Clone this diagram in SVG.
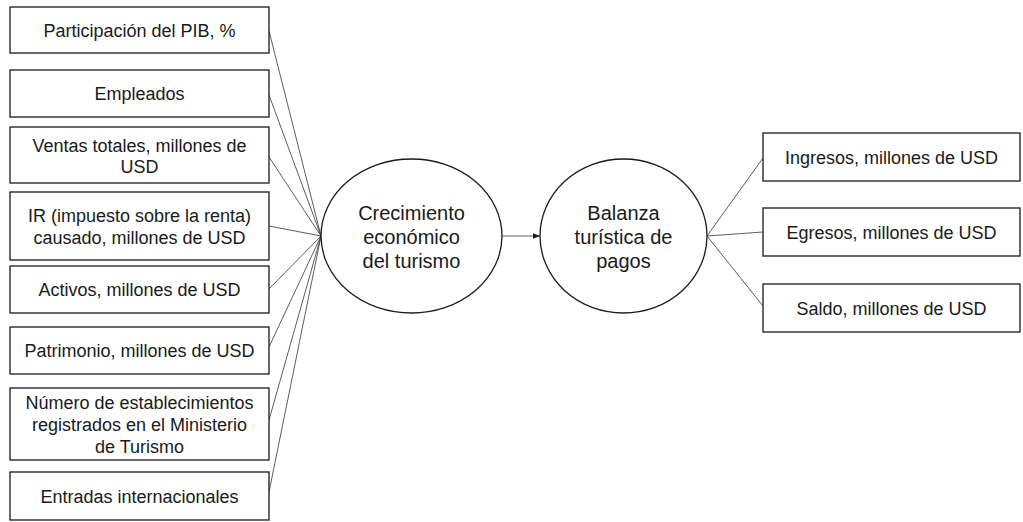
<svg xmlns="http://www.w3.org/2000/svg" width="1023" height="522" viewBox="0 0 1023 522">
<defs>
<style>
.box{fill:#fff;stroke:#1a1a1a;stroke-width:1.3}
.ell{fill:#fff;stroke:#1a1a1a;stroke-width:1.3}
.t{font-family:"Liberation Sans",Arial,sans-serif;font-size:18px;fill:#1a1a1a;text-anchor:middle}
.te{font-family:"Liberation Sans",Arial,sans-serif;font-size:20px;fill:#1a1a1a;text-anchor:middle}
.c{stroke:#333;stroke-width:0.8;fill:none}
</style>
<marker id="ah" viewBox="0 0 10 10" refX="10" refY="5" markerWidth="7" markerHeight="7" orient="auto" markerUnits="userSpaceOnUse">
<path d="M0,1 L10,5 L0,9 z" fill="#1a1a1a"/>
</marker>
</defs>
<rect width="1023" height="522" fill="#fff"/>
<g id="connectors">
<line class="c" x1="269" y1="31" x2="321" y2="236"/>
<line class="c" x1="269" y1="95" x2="321" y2="236"/>
<line class="c" x1="269" y1="157" x2="321" y2="236"/>
<line class="c" x1="269" y1="226" x2="321" y2="236"/>
<line class="c" x1="269" y1="289" x2="321" y2="236"/>
<line class="c" x1="269" y1="347" x2="321" y2="236"/>
<line class="c" x1="269" y1="420" x2="321" y2="236"/>
<line class="c" x1="269" y1="492" x2="321" y2="236"/>
<line class="c" x1="502" y1="236" x2="540" y2="236" marker-end="url(#ah)"/>
<line class="c" x1="707" y1="236" x2="763" y2="158"/>
<line class="c" x1="707" y1="236" x2="763" y2="232"/>
<line class="c" x1="707" y1="236" x2="763" y2="306"/>
</g>
<g id="n1"><rect class="box" x="10" y="7" width="259" height="46"/><text class="t" x="139.5" y="36.5">Participación del PIB, %</text></g>
<g id="n2"><rect class="box" x="10" y="70" width="259" height="47"/><text class="t" x="139.5" y="100">Empleados</text></g>
<g id="n3"><rect class="box" x="10" y="127" width="259" height="56"/><text class="t" x="139.5" y="151.5">Ventas totales, millones de</text><text class="t" x="139.5" y="172.5">USD</text></g>
<g id="n4"><rect class="box" x="10" y="192" width="259" height="68"/><text class="t" x="139.5" y="222">IR (impuesto sobre la renta)</text><text class="t" x="139.5" y="244">causado, millones de USD</text></g>
<g id="n5"><rect class="box" x="10" y="266" width="259" height="47"/><text class="t" x="139.5" y="296">Activos, millones de USD</text></g>
<g id="n6"><rect class="box" x="10" y="327" width="259" height="47"/><text class="t" x="139.5" y="357">Patrimonio, millones de USD</text></g>
<g id="n7"><rect class="box" x="10" y="388" width="259" height="72"/><text class="t" x="139.5" y="409">Número de establecimientos</text><text class="t" x="139.5" y="431">registrados en el Ministerio</text><text class="t" x="139.5" y="453">de Turismo</text></g>
<g id="n8"><rect class="box" x="10" y="472" width="259" height="48"/><text class="t" x="139.5" y="502.5">Entradas internacionales</text></g>
<g id="e1"><ellipse class="ell" cx="411.5" cy="236" rx="90.5" ry="77"/><text class="te" x="411.5" y="220">Crecimiento</text><text class="te" x="411.5" y="244">económico</text><text class="te" x="411.5" y="268">del turismo</text></g>
<g id="e2"><ellipse class="ell" cx="623.5" cy="236" rx="83.5" ry="77"/><text class="te" x="623.5" y="220">Balanza</text><text class="te" x="623.5" y="244">turística de</text><text class="te" x="623.5" y="268">pagos</text></g>
<g id="r1"><rect class="box" x="763" y="133" width="257" height="48"/><text class="t" x="891.5" y="163.5">Ingresos, millones de USD</text></g>
<g id="r2"><rect class="box" x="763" y="208" width="257" height="48"/><text class="t" x="891.5" y="238.5">Egresos, millones de USD</text></g>
<g id="r3"><rect class="box" x="763" y="284" width="257" height="48"/><text class="t" x="891.5" y="314.5">Saldo, millones de USD</text></g>
</svg>
